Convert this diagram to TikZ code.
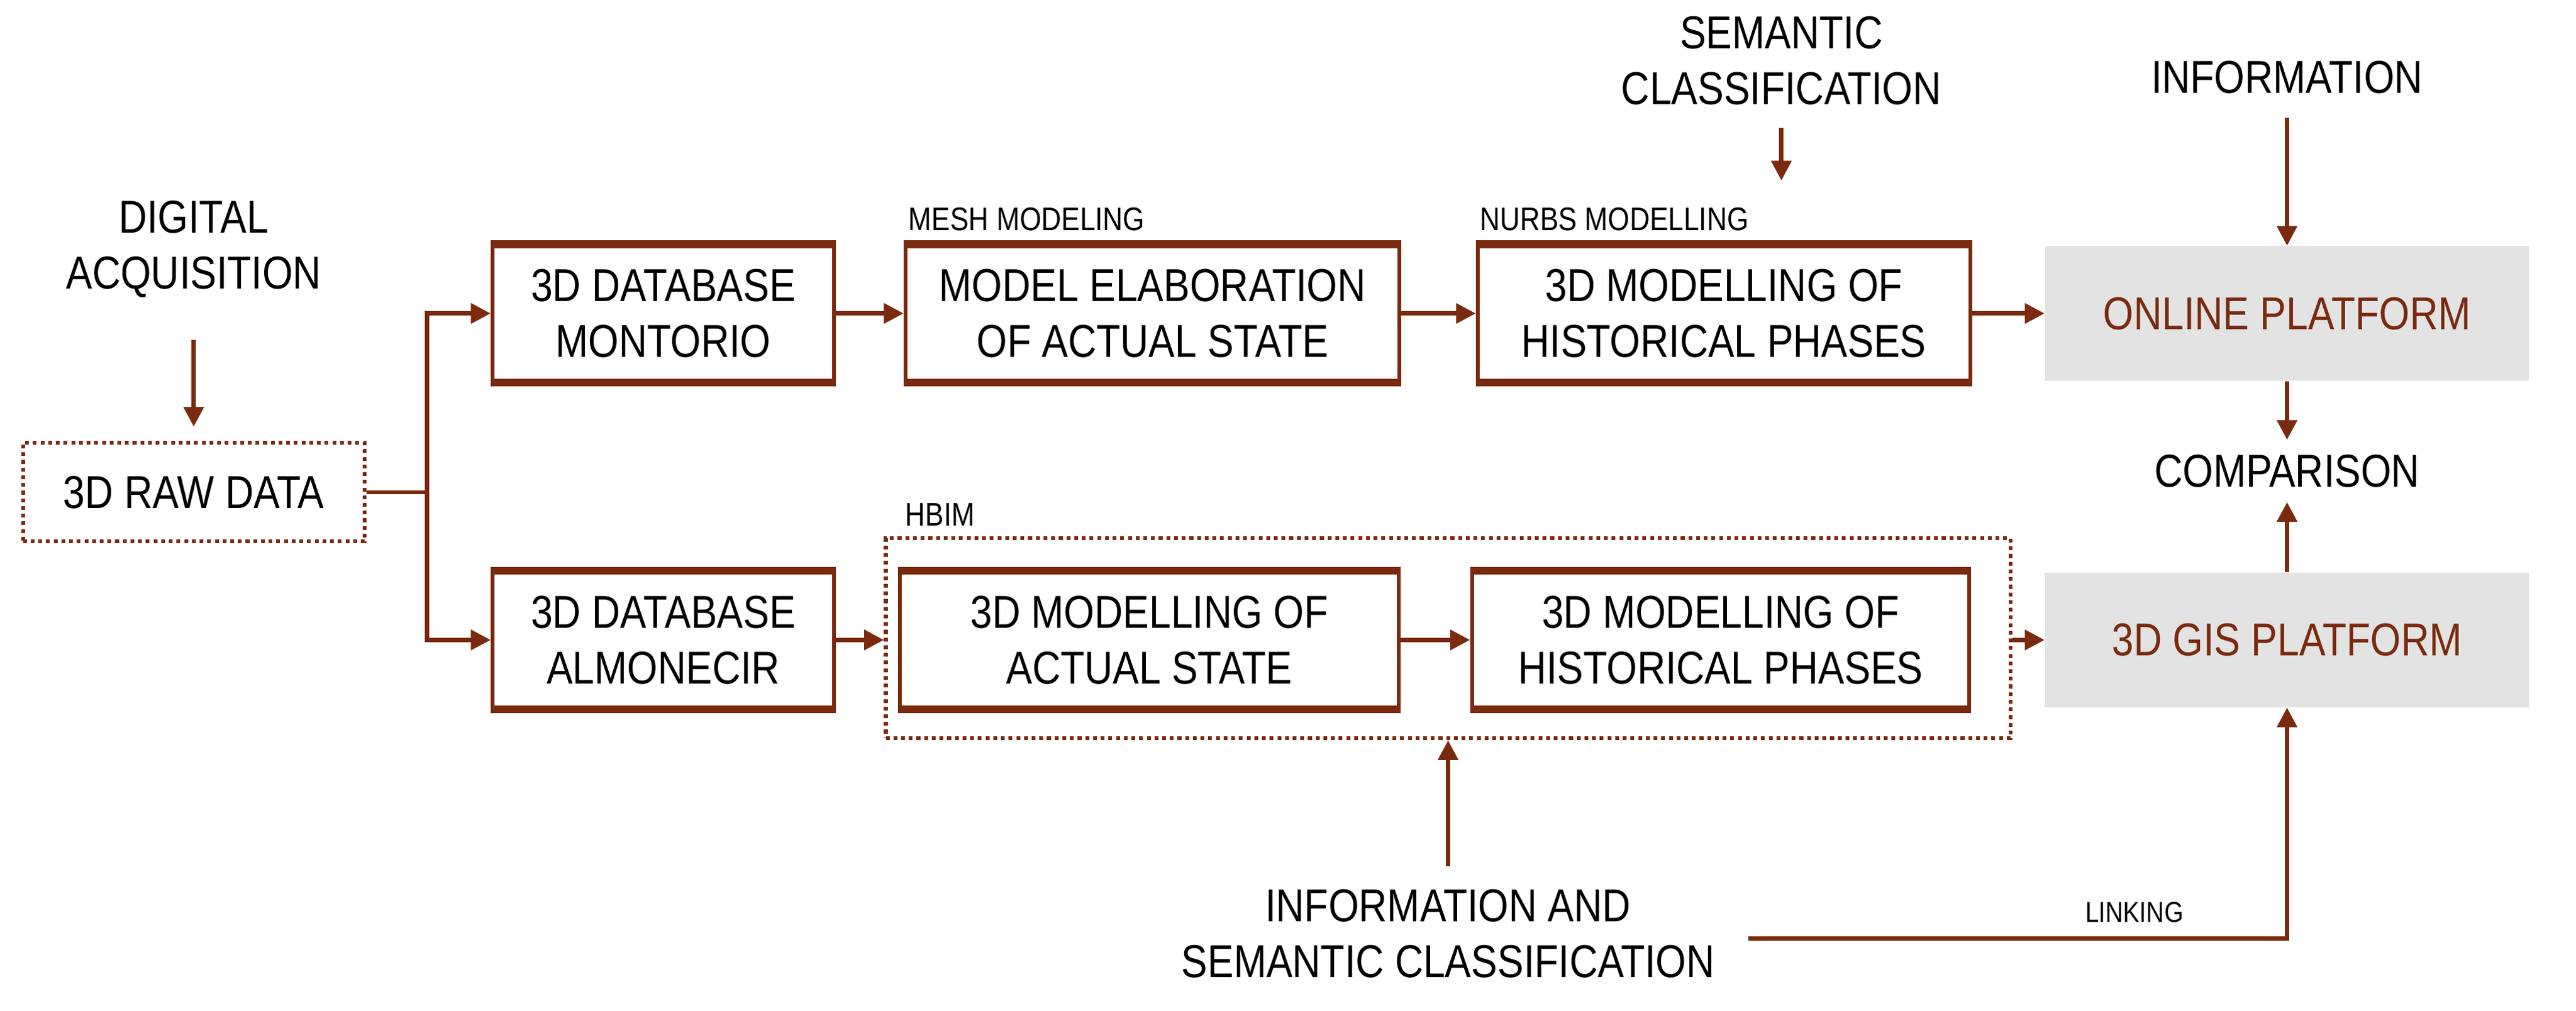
\documentclass[tikz,border=0pt]{standalone}
\usepackage{fontspec}
\setmainfont{Liberation Sans}[FakeStretch=0.85]
\usetikzlibrary{arrows.meta}
\definecolor{br}{HTML}{7A2A0E}
\definecolor{gb}{HTML}{E3E3E3}
\begin{document}
\begin{tikzpicture}[x=0.3mm,y=-0.3mm,
  big/.style={font=\fontsize{24}{29}\selectfont,align=center},
  sm/.style={font=\fontsize{17}{20}\selectfont},
  line/.style={draw=br,line width=0.75mm},
  arr/.style={line,-{Triangle[length=3.6mm,width=3.6mm]}},
  box/.style={big,draw=br,line width=0.7mm,minimum width=#1*0.3mm,minimum height=82*0.3mm,inner sep=0pt},
  grey/.style={big,fill=gb,text=br,minimum width=295*0.3mm,minimum height=82*0.3mm},
  dot/.style={draw=br,line width=0.7mm,dotted}]
\useasboundingbox (0,0) rectangle (1569,616);
% nodes
\node[big] (da) at (118,152) {DIGITAL\\ACQUISITION};
\node[big,dot,minimum width=208*0.3mm,minimum height=60*0.3mm] (raw) at (118,300) {3D RAW DATA};
\node[box=208] (m1) at (404,191) {3D DATABASE\\MONTORIO};
\node[box=301] (m2) at (702,191) {MODEL ELABORATION\\OF ACTUAL STATE};
\node[box=300] (m3) at (1050,191) {3D MODELLING OF\\HISTORICAL PHASES};
\node[grey] (op) at (1393,191) {ONLINE PLATFORM};
\node[box=208] (a1) at (404,390) {3D DATABASE\\ALMONECIR};
\node[box=304] (a2) at (700,390) {3D MODELLING OF\\ACTUAL STATE};
\node[box=303] (a3) at (1048,390) {3D MODELLING OF\\HISTORICAL PHASES};
\node[grey] (gis) at (1393,390) {3D GIS PLATFORM};
\node[dot,minimum width=685*0.3mm,minimum height=122*0.3mm,inner sep=0pt] (hb) at (882,389) {};
\node[sm,anchor=south west,inner sep=1pt] at (552,142) {MESH MODELING};
\node[sm,anchor=south west,inner sep=1pt] at (900,142) {NURBS MODELLING};
\node[sm,anchor=south west,inner sep=1pt] at (550,322) {HBIM};
\node[big] (sc) at (1085,37) {SEMANTIC\\CLASSIFICATION};
\node[big] (inf) at (1393,47) {INFORMATION};
\node[big] (cmp) at (1393,287) {COMPARISON};
\node[big] (isc) at (882,569) {INFORMATION AND\\SEMANTIC CLASSIFICATION};
\node[font=\fontsize{15}{18}\selectfont] (lk) at (1300,556) {LINKING};
% thick top/bottom edges
\foreach \n in {m1,m2,m3,a1,a2,a3}{
  \draw[br,line width=1.4mm] (\n.north west) -- (\n.north east);
  \draw[br,line width=1.4mm] (\n.south west) -- (\n.south east);}
\coordinate (j) at (260,300);
\coordinate (lc) at (1393,572);
% connectors
\draw[arr] (118,207) -- (118,260);
\draw[line] (raw.east) -- (j);
\draw[arr] (j) |- (m1.west);
\draw[arr] (j) |- (a1.west);
\draw[arr] (m1) -- (m2);
\draw[arr] (m2) -- (m3);
\draw[arr] (m3) -- (op);
\draw[arr] (a2) -- (a3);
\draw[arr] (a1.east) -- (hb.west|-a1.east);
\draw[arr] (hb.east|-gis.west) -- (gis.west);
\draw[arr] (1085,78) -- (1085,110);
\draw[arr] (1393,72) -- (op.north);
\draw[arr] (op.south) -- (1393,268);
\draw[arr] (gis.north) -- (1393,306);
\draw[arr] (882,528) -- (hb.south);
\draw[arr] (1065,572) -- (lc) -- (gis.south);
\end{tikzpicture}
\end{document}
